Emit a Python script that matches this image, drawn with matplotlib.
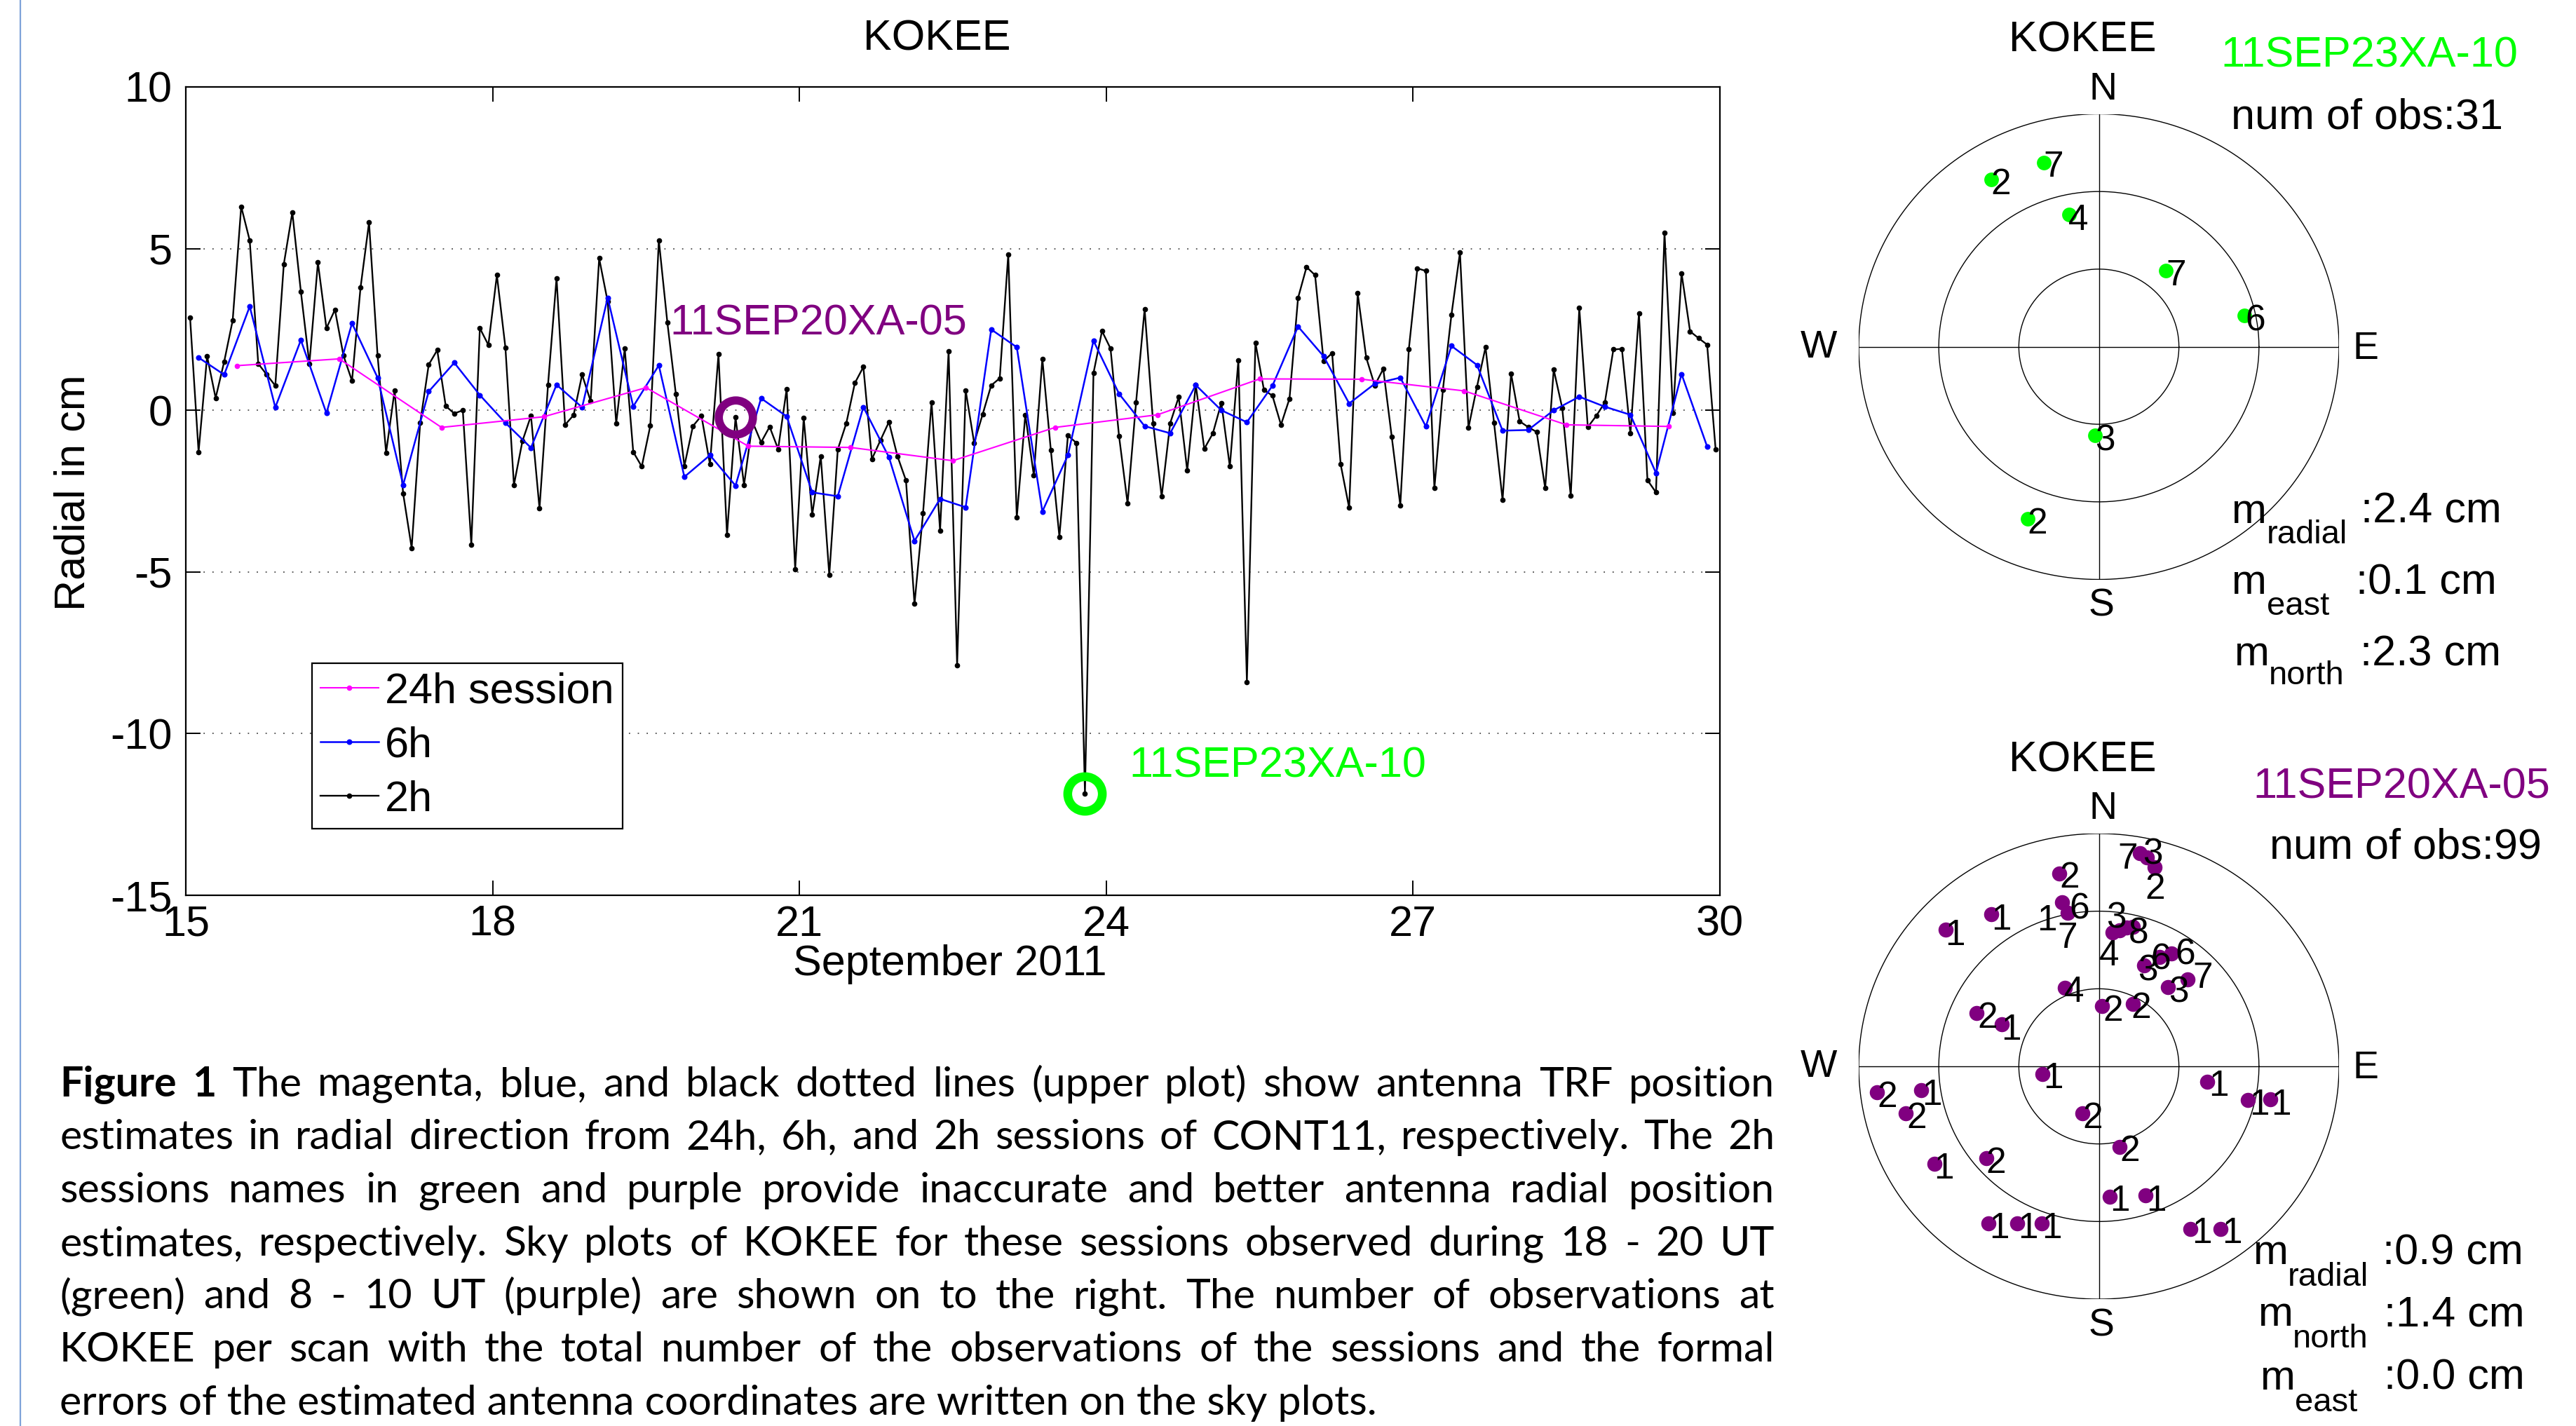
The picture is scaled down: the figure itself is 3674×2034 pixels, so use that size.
import numpy as np
import matplotlib
matplotlib.use("Agg")
import matplotlib.pyplot as plt
from matplotlib.lines import Line2D

W, H, DPI = 3674, 2034, 100
plt.rcParams['font.family'] = ['Liberation Sans', 'DejaVu Sans']
plt.rcParams['axes.unicode_minus'] = False

# ---------------- data ----------------
day_start = 15.0
# 2h sessions (cm)
r2h = [2.87, -1.29, 1.67, 0.38, 1.50, 2.78, 6.30, 5.25, 1.44, 1.10,
       0.76, 4.52, 6.12, 3.67, 1.44, 4.57, 2.54, 3.11, 1.69, 0.91,
       3.79, 5.81, 1.70, -1.31, 0.61, -2.57, -4.26, -0.39, 1.41, 1.86,
       0.13, -0.10, 0.00, -4.15, 2.54, 2.02, 4.18, 1.94, -2.31, -0.95,
       -0.17, -3.04, 0.79, 4.09, -0.45, -0.15, 1.10, 0.28, 4.70, 3.36,
       -0.41, 1.91, -1.29, -1.74, -0.48, 5.26, 2.72, 0.50, -1.72, -0.49,
       -0.17, -1.67, 1.73, -3.85, -0.22, -2.31, -0.36, -0.99, -0.51, -1.20,
       0.66, -4.91, -0.23, -3.23, -1.42, -5.10, -1.21, -0.40, 0.84, 1.34,
       -1.51, -0.93, -0.36, -1.42, -2.17, -5.99, -3.19, 0.25, -3.72, 1.83,
       -7.88, 0.62, -1.01, -0.12, 0.77, 0.99, 4.82, -3.32, -0.14, -2.01,
       1.59, -1.24, -3.91, -0.78, -1.01, -11.85, 1.15, 2.45, 1.91, -0.80,
       -2.88, 0.25, 3.13, -0.40, -2.67, -0.40, 0.41, -1.87, 0.79, -1.19,
       -0.72, 0.23, -1.74, 1.55, -8.40, 2.09, 0.63, 0.45, -0.45, 0.36,
       3.47, 4.43, 4.18, 1.52, 1.77, -1.67, -3.02, 3.62, 1.63, 0.77,
       1.28, -0.83, -2.94, 1.89, 4.39, 4.31, -2.41, 0.64, 2.95, 4.88,
       -0.54, 0.73, 1.95, -0.39, -2.77, 1.13, -0.34, -0.52, -0.67, -2.41,
       1.26, 0.07, -2.65, 3.16, -0.52, -0.17, 0.24, 1.88, 1.90, -0.72,
       2.99, -2.16, -2.54, 5.50, -0.08, 4.24, 2.44, 2.23, 2.03, -1.22]
# 6h sessions (cm)
r6h = [1.63, 1.10, 3.21, 0.09, 2.17, -0.09, 2.69, 1.01, -2.31, 0.58,
       1.47, 0.47, -0.39, -1.16, 0.79, 0.09, 3.48, 0.12, 1.39, -2.06,
       -1.39, -2.33, 0.37, -0.19, -2.54, -2.66, 0.10, -1.45, -4.04, -2.74,
       -3.00, 2.50, 1.95, -3.13, -1.39, 2.15, 0.51, -0.49, -0.71, 0.78,
       0.00, -0.37, 0.76, 2.59, 1.67, 0.21, 0.82, 1.01, -0.50, 1.99,
       1.40, -0.63, -0.61, 0.00, 0.42, 0.11, -0.14, -1.94, 1.12, -1.12]
# 24h sessions (cm)
r24h = [1.38, 1.59, -0.53, -0.20, 0.70, -1.11, -1.15, -1.56, -0.53, -0.14,
        0.97, 0.96, 0.60, -0.45, -0.50]

t2h = day_start + (np.arange(len(r2h)) + 0.5) * 2 / 24
t6h = day_start + (np.arange(len(r6h)) + 0.5) * 6 / 24
t24h = day_start + (np.arange(len(r24h)) + 0.5)

good_session, good_idx = "11SEP20XA-05", 64
bad_session, bad_idx = "11SEP23XA-10", 105

xticks = [15, 18, 21, 24, 27, 30]
yticks = [-15, -10, -5, 0, 5, 10]
legend_labels = ["24h session", "6h", "2h"]

# sky plot (bad session, green)
skyA_x = [-0.229, -0.449, -0.125, 0.279, 0.607, -0.015, -0.297]
skyA_y = [0.790, 0.717, 0.567, 0.327, 0.133, -0.380, -0.739]
skyA_lab = ['7', '2', '4', '7', '6', '3', '2']
skyA_lx = [-0.189, -0.409, -0.085, 0.321, 0.651, 0.027, -0.255]
skyA_ly = [0.788, 0.711, 0.558, 0.321, 0.126, -0.388, -0.745]
skyA_obs = 31
skyA_err = [("radial", "2.4"), ("east", "0.1"), ("north", "2.3")]

# sky plot (good session, purple)
skyB_x = [0.170, 0.199, 0.233, -0.164, -0.153, -0.129, 0.058, 0.087, 0.116, 0.141,
          0.253, 0.301, 0.189, 0.369, 0.287, -0.142, 0.014, 0.141,
          -0.449, -0.639, -0.509, -0.405, -0.235, 0.451, 0.621, 0.715, -0.924, -0.739,
          -0.803, -0.069, 0.085, -0.685, -0.469, 0.045, 0.195, -0.459, -0.339, -0.239,
          0.381, 0.507]
skyB_y = [0.917, 0.897, 0.854, 0.829, 0.706, 0.661, 0.575, 0.585, 0.595, 0.600,
          0.470, 0.485, 0.435, 0.374, 0.339, 0.336, 0.259, 0.269,
          0.653, 0.587, 0.228, 0.181, -0.033, -0.065, -0.146, -0.143, -0.112, -0.103,
          -0.201, -0.203, -0.345, -0.419, -0.396, -0.559, -0.555, -0.676, -0.676, -0.676,
          -0.699, -0.699]
skyB_lab = ['7', '3', '2', '2', '6', '1', '7', '3', '8', '4', '6', '6', '3', '7', '3', '4', '2', '2',
            '1', '1', '2', '1', '1', '1', '1', '1', '2', '1', '2', '2', '2', '1', '2', '1', '1',
            '1', '1', '1', '1', '1']
skyB_lx = [0.121, 0.223, 0.233, -0.122, -0.080, -0.215, -0.132, 0.073, 0.165, 0.043,
           0.258, 0.360, 0.204, 0.433, 0.331, -0.103, 0.058, 0.175,
           -0.405, -0.600, -0.465, -0.365, -0.190, 0.498, 0.668, 0.758, -0.880, -0.695,
           -0.760, -0.025, 0.128, -0.645, -0.430, 0.088, 0.238, -0.415, -0.295, -0.195,
           0.428, 0.554]
skyB_ly = [0.907, 0.927, 0.776, 0.826, 0.691, 0.641, 0.565, 0.651, 0.585, 0.490,
           0.475, 0.495, 0.425, 0.395, 0.334, 0.334, 0.254, 0.264,
           0.645, 0.577, 0.222, 0.171, -0.037, -0.069, -0.150, -0.150, -0.116, -0.109,
           -0.207, -0.207, -0.349, -0.424, -0.400, -0.562, -0.562, -0.680, -0.680, -0.680,
           -0.702, -0.702]
skyB_obs = 99
skyB_err = [("radial", "0.9"), ("north", "1.4"), ("east", "0.0")]

caption = [
    "Figure 1 The magenta, blue, and black dotted lines (upper plot) show antenna TRF position",
    "estimates in radial direction from 24h, 6h, and 2h sessions of CONT11, respectively. The 2h",
    "sessions names in green and purple provide inaccurate and better antenna radial position",
    "estimates, respectively. Sky plots of KOKEE for these sessions observed during 18 - 20 UT",
    "(green) and 8 - 10 UT (purple) are shown on to the right. The number of observations at",
    "KOKEE per scan with the total number of the observations of the sessions and the formal",
    "errors of the estimated antenna coordinates are written on the sky plots.",
]

GREEN = '#00ff00'
PURPLE = '#800080'
MAGENTA = '#ff00ff'
BLUE = '#0000ff'
FS = 44

# ---------------- figure ----------------
fig = plt.figure(figsize=(W / DPI, H / DPI), dpi=DPI)
fig.patch.set_facecolor('white')


def fx(px):
    return px / W


def fy(py):
    return 1 - py / H


def ftext(px, py, s, **kw):
    return fig.text(fx(px), fy(py), s, **kw)


# page border line on the left
fig.add_artist(Line2D([fx(29), fx(29)], [0, 1], color='#7fa3d9', lw=1.6))

AX_L, AX_R, AX_T, AX_B = 265, 2453, 124, 1277
ax = fig.add_axes([fx(AX_L), fy(AX_B), (AX_R - AX_L) / W, (AX_B - AX_T) / H])
h2, = ax.plot(t2h, r2h, '-', color='k', lw=1.7, marker='o', ms=4.5, zorder=3)
h6, = ax.plot(t6h, r6h, '-', color=BLUE, lw=1.8, marker='o', ms=4.8, zorder=4)
h24, = ax.plot(t24h, r24h, '-', color=MAGENTA, lw=1.5, marker='o', ms=4.5, zorder=5)
ax.plot(t2h[good_idx], r2h[good_idx], 'o', mfc='none', mec=PURPLE, ms=35, mew=8.4, zorder=6)
ax.plot(t2h[bad_idx], r2h[bad_idx], 'o', mfc='none', mec=GREEN, ms=35.5, mew=9, zorder=6)
ax.text(19.736, 2.67, good_session, color=PURPLE, fontsize=FS, ha='left', va='center')
ax.text(24.226, -11.02, bad_session, color=GREEN, fontsize=FS, ha='left', va='center')

ax.set_xlim(15, 30)
ax.set_ylim(-15, 10)
ax.set_xticks(xticks)
ax.set_yticks(yticks)
ax.tick_params(direction='in', length=15, width=1.4, top=True, right=True, labelsize=FS)
ax.tick_params(axis='y', pad=14)
ax.tick_params(axis='x', pad=10)
ax.yaxis.grid(True, linestyle=(0, (1, 6)), color='0.3', lw=1.3)
for s in ax.spines.values():
    s.set_linewidth(1.6)

ftext(1336, 56, 'KOKEE', fontsize=FS, ha='center', va='center')
ax.set_xlabel('September 2011', fontsize=FS, va='center')
ax.xaxis.set_label_coords((1355 - AX_L) / (AX_R - AX_L), -(1375 - AX_B) / (AX_B - AX_T))
ax.set_ylabel('Radial in cm', fontsize=FS, va='center')
ax.yaxis.set_label_coords((105 - AX_L) / (AX_R - AX_L), 1 - (703 - AX_T) / (AX_B - AX_T))

leg = ax.legend([h24, h6, h2], legend_labels, loc='upper left',
                bbox_to_anchor=((445 - AX_L) / (AX_R - AX_L), 1 - (946 - AX_T) / (AX_B - AX_T)),
                borderaxespad=0, fontsize=FS, frameon=True, fancybox=False,
                edgecolor='k', framealpha=1, handlelength=1.35, handletextpad=0.15,
                labelspacing=0.33, borderpad=0.2)
leg.get_frame().set_linewidth(1.6)


# ---------------- sky plots ----------------
def sky_axes(cy):
    a = fig.add_axes([fx(2651), fy(cy + 332), 685 / W, 664 / H])
    a.set_xlim(-1, 1)
    a.set_ylim(-1, 1)
    a.axis('off')
    th = np.linspace(0, 2 * np.pi, 500)
    for r in (1.0, 2 / 3, 1 / 3):
        a.plot(r * np.cos(th), r * np.sin(th), color='k', lw=1.0)
    a.plot([-1, 1], [0, 0], color='k', lw=1.0)
    a.plot([0, 0], [-1, 1], color='k', lw=1.0)
    return a


def sky_texts(cy, sess, col, obs, err, name_x, name_y, obs_x, obs_y, m_rows):
    ftext(2970, cy - 436, 'KOKEE', fontsize=FS, ha='center', va='center')
    ftext(name_x, name_y, sess, color=col, fontsize=FS, ha='left', va='center')
    ftext(obs_x, obs_y, 'num of obs:%d' % obs, fontsize=FS, ha='left', va='center')
    ftext(2999, cy - 367, 'N', fontsize=40, ha='center', va='center')
    ftext(2997, cy + 370, 'S', fontsize=40, ha='center', va='center')
    ftext(3374, cy + 3, 'E', fontsize=40, ha='center', va='center')
    ftext(2594, cy + 1, 'W', fontsize=40, ha='center', va='center')
    for (sub, val), (mx, base, sx, sbase, vx) in zip(err, m_rows):
        ftext(mx, base, 'm', fontsize=43, ha='left', va='baseline')
        ftext(sx, sbase, sub, fontsize=34, ha='left', va='baseline')
        ftext(vx, base, ':%s cm' % val, fontsize=FS, ha='left', va='baseline')


cyA, cyB = 494.5, 1521
axA = sky_axes(cyA)
axA.plot(skyA_x, skyA_y, 'o', color=GREEN, ms=15, mec='none', zorder=3)
for lx, ly, t in zip(skyA_lx, skyA_ly, skyA_lab):
    axA.text(lx, ly, t, fontsize=37, ha='center', va='center_baseline', zorder=4)
sky_texts(cyA, bad_session, GREEN, skyA_obs, skyA_err, 3167, 80, 3182, 168,
          [(3182, 746, 3233, 775, 3367), (3182, 847, 3233, 877, 3360), (3186, 949, 3236, 976, 3366)])

axB = sky_axes(cyB)
axB.plot(skyB_x, skyB_y, 'o', color=PURPLE, ms=15.5, mec='none', zorder=3)
for lx, ly, t in zip(skyB_lx, skyB_ly, skyB_lab):
    axB.text(lx, ly, t, fontsize=37, ha='center', va='center_baseline', zorder=4)
sky_texts(cyB, good_session, PURPLE, skyB_obs, skyB_err, 3213, 1123, 3237, 1209,
          [(3213, 1803, 3263, 1834, 3398), (3220, 1891, 3270, 1922, 3400), (3223, 1982, 3273, 2013, 3400)])

# ---------------- caption (justified) ----------------
renderer = fig.canvas.get_renderer()
CAP_FONT = ['Lato', 'DejaVu Sans']
CAP_L, CAP_R = 85, 2531
base0, lstep = 1563.6, 75.7

probe = fig.text(0, 0, caption[-1], fontsize=40, family=CAP_FONT)
w40 = probe.get_window_extent(renderer).width
probe.remove()
cap_fs = 40 * 1880 / w40

for k, line in enumerate(caption):
    by = base0 + k * lstep
    if k == len(caption) - 1:
        ftext(CAP_L, by, line, fontsize=cap_fs, family=CAP_FONT, ha='left', va='baseline')
        continue
    words = line.split(' ')
    arts = []
    for j, wd in enumerate(words):
        bold = (k == 0 and j < 2)
        t = fig.text(0, fy(by), wd, fontsize=cap_fs, family=CAP_FONT,
                     weight='bold' if bold else 'normal', ha='left', va='baseline')
        arts.append(t)
    widths = [t.get_window_extent(renderer).width for t in arts]
    gap = (CAP_R - CAP_L - sum(widths)) / (len(words) - 1)
    x = CAP_L
    for t, wdt in zip(arts, widths):
        t.set_x(fx(x))
        x += wdt + gap

fig.savefig('out.png', dpi=DPI, facecolor='white')
